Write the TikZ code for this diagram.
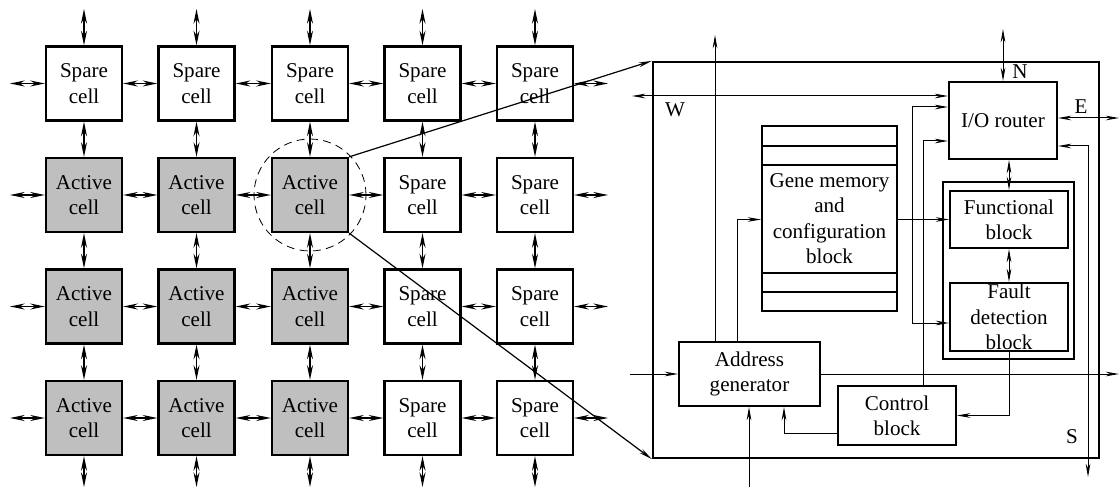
\documentclass[tikz,border=0pt]{standalone}
\usepackage{fontspec}
\setmainfont{Liberation Serif}
\usetikzlibrary{arrows.meta,calc}
\begin{document}
\begin{tikzpicture}[x=0.75pt,y=-0.75pt,
  font=\fontsize{15.8pt}{19pt}\selectfont,
  cellbox/.style={draw,line width=1.7pt,minimum width=57pt,minimum height=55.5pt,inner sep=0pt,align=center},
  activebox/.style={cellbox,fill=black!25},
  sparebox/.style={cellbox,fill=white},
  gridarrow/.style={line width=1.1pt,{Stealth[length=11pt,width=4.5pt]}-{Stealth[length=11pt,width=4.5pt]}},
  blk/.style={draw,line width=1.5pt,inner sep=0pt,align=center},
  wire/.style={line width=0.75pt},
  tip/.tip={Stealth[length=10pt,width=3.5pt]},
  zoomline/.style={line width=0.9pt,-{Stealth[length=10pt,width=3.5pt]}}
]
\useasboundingbox (0,0) rectangle (1119,488);

% ---------- grid of cells ----------
\def\cx{{0,84,196.5,310,422.5,535}}
\def\ry{{0,83.5,195,306.5,418}}
\foreach \r in {1,...,4}{
  \foreach \c in {1,...,5}{
    \pgfmathsetmacro{\xx}{\cx[\c]}
    \pgfmathsetmacro{\yy}{\ry[\r]}
    \pgfmathtruncatemacro{\act}{(\r>1 && \c<4) ? 1 : 0}
    \ifnum\act=1
      \node[activebox] (c\r\c) at (\xx,\yy) {Active\\cell};
    \else
      \node[sparebox] (c\r\c) at (\xx,\yy) {Spare\\cell};
    \fi
  }
}
% horizontal links
\foreach \r in {1,...,4}{
  \foreach \c [evaluate=\c as \n using int(\c+1)] in {1,...,4}{
    \draw[gridarrow] (c\r\c.east) -- (c\r\n.west);
  }
  \pgfmathsetmacro{\yy}{\ry[\r]}
  \coordinate (L\r) at (10,\yy);
  \coordinate (R\r) at (608,\yy);
  \draw[gridarrow] (L\r) -- (c\r1.west);
  \draw[gridarrow] (c\r5.east) -- (R\r);
}
% vertical links
\foreach \c in {1,...,5}{
  \foreach \r [evaluate=\r as \n using int(\r+1)] in {1,...,3}{
    \draw[gridarrow] (c\r\c.south) -- (c\n\c.north);
  }
  \pgfmathsetmacro{\xx}{\cx[\c]}
  \coordinate (T\c) at (\xx,9);
  \coordinate (B\c) at (\xx,487);
  \draw[gridarrow] (T\c) -- (c1\c.north);
  \draw[gridarrow] (c4\c.south) -- (B\c);
}
% dashed circle round the chosen cell
\node[draw,dash pattern=on 6pt off 4pt,line width=0.6pt,circle,minimum size=84pt] (zoomc) at (c23.center) {};

% ---------- detailed cell ----------
\node[draw,line width=1.7pt,minimum width=334.5pt,minimum height=297pt,inner sep=0pt] (big) at (876,260) {};
\node[blk,minimum width=81pt,minimum height=57.75pt] (io) at (1003,120.5) {I/O router};
\node[blk,minimum width=101.25pt,minimum height=138.75pt] (gene) at (829.5,218.5) {Gene memory\\and\\configuration\\block};
\draw[line width=1.5pt] (gene.west |- 0,146) -- (gene.east |- 0,146);
\draw[line width=1.5pt] (gene.west |- 0,165) -- (gene.east |- 0,165);
\draw[line width=1.5pt] (gene.west |- 0,273) -- (gene.east |- 0,273);
\draw[line width=1.5pt] (gene.west |- 0,292) -- (gene.east |- 0,292);
\node[blk,minimum width=98.25pt,minimum height=132.75pt] (cont) at (1008.5,270.5) {};
\node[blk,minimum width=88.5pt,minimum height=42.75pt] (func) at (1009,219.5) {Functional\\block};
\node[blk,minimum width=88.5pt,minimum height=51pt] (fault) at (1009,317) {Fault\\detection\\block};
\node[blk,minimum width=105.75pt,minimum height=48pt] (addr) at (749.5,374) {Address\\generator};
\node[blk,minimum width=88.5pt,minimum height=44.25pt] (ctrl) at (897,415.5) {Control\\block};

% labels
\node (lW) at (675,110) {W};
\node (lN) at (1020,72) {N};
\node (lE) at (1081,107) {E};
\node (lS) at (1072,437) {S};

% zoom lines
\draw[zoomline] (c23.north east) -- (big.north west);
\draw[zoomline] (c23.south east) -- (big.south west);

% wires
\coordinate (Wend) at (632,96);
\draw[wire,tip-tip] (Wend) -- (Wend -| io.west);
\coordinate (Nend) at (1003,29);
\draw[wire,tip-tip] (Nend) -- (io.north);
\coordinate (Eend) at (1119,118);
\draw[wire,tip-tip] (Eend -| io.east) -- (Eend);
\coordinate (Uend) at (715,35);
\draw[wire,-tip] (Uend |- addr.north) -- (Uend);
\coordinate (g1) at (737,219.5);
\draw[wire,-tip] (g1 |- addr.north) -- (g1) -- (g1 -| gene.west);
\draw[wire,-tip] (gene.east |- 0,219.5) -- (func.west |- 0,219.5);
\coordinate (a1) at (912,107);
\coordinate (a2) at (912,323);
\draw[wire,tip-tip] (a1 -| io.west) -- (a1) -- (a2) -- (a2 -| fault.west);
\coordinate (b1) at (923,141);
\draw[wire,-tip] (b1 |- ctrl.north) -- (b1) -- (b1 -| io.west);
\coordinate (cc1) at (1088,146);
\coordinate (cc2) at (1088,477);
\draw[wire,tip-tip] (cc1 -| io.east) -- (cc1) -- (cc2);
\draw[wire,tip-tip] (func.north |- io.south) -- (func.north);
\draw[wire,tip-tip] (func.south) -- (fault.north);
\draw[wire,-tip] (fault.south) -- (fault.south |- ctrl.east) -- (ctrl.east);
\coordinate (d1) at (784,433);
\draw[wire,-tip] (d1 -| ctrl.west) -- (d1) -- (d1 |- addr.south);
\coordinate (e1) at (749,487);
\draw[wire,-tip] (e1) -- (e1 |- addr.south);
\coordinate (h1) at (630,374);
\coordinate (h2) at (1119,374);
\draw[wire,-tip] (h1) -- (addr.west);
\draw[wire,-tip] (addr.east) -- (h2);
\end{tikzpicture}
\end{document}
